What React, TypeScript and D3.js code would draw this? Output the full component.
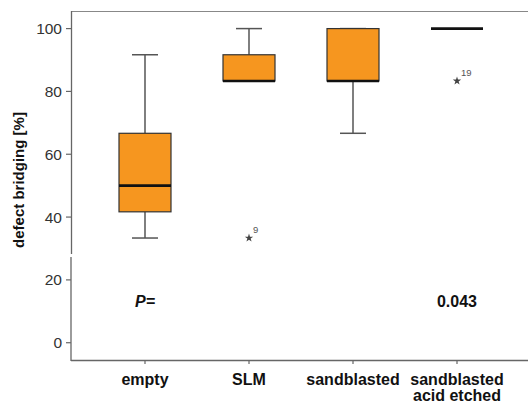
import React, { useEffect, useRef } from 'react';
import * as d3 from 'd3';

const categories = ['empty', 'SLM', 'sandblasted', 'sandblasted|acid etched'];
const whiskerLow = [33.33, 83.33, 66.67, 100];
const q1 = [41.67, 83.33, 83.33, 100];
const median = [50, 83.33, 83.33, 100];
const q3 = [66.67, 91.67, 100, 100];
const whiskerHigh = [91.67, 100, 100, 100];
const outlierCats = ['SLM', 'sandblasted|acid etched'];
const outlierValues = [33.33, 83.33];
const outlierIds = ['9', '19'];
const pTexts = ['P=', '', '', '0.043'];
const yTicks = [0, 20, 40, 60, 80, 100];

const W = 528;
const H = 405;
const left = 71;
const top = 11;
const bottom = 360;
const right = 531;
const font = 'Liberation Sans, Arial, sans-serif';

export default function App() {
    const ref = useRef<SVGSVGElement>(null);

    useEffect(() => {
        const svg = d3.select(ref.current);
        svg.selectAll('*').remove();

        const x = d3.scalePoint<string>().domain(categories).range([left, right]).padding(0.7115);
        const y = d3.scaleLinear().domain([-5.5, 105.6]).range([bottom, top]);
        const step = x.step();
        const boxW = step / 2;
        const capW = step / 4;

        // frame
        const axisColor = '#666';
        svg.append('line').attr('x1', left).attr('x2', W).attr('y1', top + 0.5).attr('y2', top + 0.5)
            .attr('stroke', '#888').attr('stroke-width', 1.2);
        svg.append('line').attr('x1', left).attr('x2', W).attr('y1', bottom + 0.5).attr('y2', bottom + 0.5)
            .attr('stroke', axisColor).attr('stroke-width', 1.3);
        // y axis with small break
        svg.append('line').attr('x1', left + 0.5).attr('x2', left + 0.5).attr('y1', top).attr('y2', 254)
            .attr('stroke', axisColor).attr('stroke-width', 1.3);
        svg.append('line').attr('x1', left).attr('x2', left).attr('y1', 257).attr('y2', bottom + 1)
            .attr('stroke', axisColor).attr('stroke-width', 1.3);

        // y ticks
        const yg = svg.append('g');
        yTicks.forEach(t => {
            yg.append('line').attr('x1', left - 5).attr('x2', left).attr('y1', y(t)).attr('y2', y(t))
                .attr('stroke', axisColor).attr('stroke-width', 1.2);
            yg.append('text').attr('x', left - 9).attr('y', y(t)).attr('dy', '0.36em')
                .attr('text-anchor', 'end').attr('font-family', font).attr('font-size', 15.5)
                .attr('fill', '#333').text(t);
        });

        // x ticks + labels
        categories.forEach(c => {
            const cx = x(c)!;
            svg.append('line').attr('x1', cx).attr('x2', cx).attr('y1', bottom).attr('y2', bottom + 4)
                .attr('stroke', axisColor).attr('stroke-width', 1.2);
            const lines = c.split('|');
            const t = svg.append('text').attr('x', cx).attr('y', 385).attr('text-anchor', 'middle')
                .attr('font-family', font).attr('font-weight', 'bold').attr('font-size', 16).attr('fill', '#111');
            lines.forEach((l, i) => {
                t.append('tspan').attr('x', cx).attr('dy', i === 0 ? 0 : 16).text(l);
            });
        });

        // y label
        svg.append('text').attr('transform', `translate(24,${180}) rotate(-90)`).attr('text-anchor', 'middle')
            .attr('font-family', font).attr('font-weight', 'bold').attr('font-size', 15).attr('fill', '#111')
            .text('defect bridging [%]');

        // boxes
        categories.forEach((c, i) => {
            const cx = x(c)!;
            const g = svg.append('g');
            if (whiskerHigh[i] > q3[i] || q3[i] !== q1[i]) {
                g.append('line').attr('x1', cx).attr('x2', cx).attr('y1', y(q3[i])).attr('y2', y(whiskerHigh[i]))
                    .attr('stroke', '#555').attr('stroke-width', 1.5);
                g.append('line').attr('x1', cx - capW / 2).attr('x2', cx + capW / 2)
                    .attr('y1', y(whiskerHigh[i])).attr('y2', y(whiskerHigh[i]))
                    .attr('stroke', '#555').attr('stroke-width', 1.5);
                g.append('line').attr('x1', cx).attr('x2', cx).attr('y1', y(q1[i])).attr('y2', y(whiskerLow[i]))
                    .attr('stroke', '#555').attr('stroke-width', 1.5);
                g.append('line').attr('x1', cx - capW / 2).attr('x2', cx + capW / 2)
                    .attr('y1', y(whiskerLow[i])).attr('y2', y(whiskerLow[i]))
                    .attr('stroke', '#555').attr('stroke-width', 1.5);
            }
            if (q3[i] > q1[i]) {
                g.append('rect').attr('x', cx - boxW / 2).attr('y', y(q3[i])).attr('width', boxW)
                    .attr('height', y(q1[i]) - y(q3[i])).attr('fill', '#f6961f')
                    .attr('stroke', '#333').attr('stroke-width', 1.2);
            }
            g.append('line').attr('x1', cx - boxW / 2).attr('x2', cx + boxW / 2)
                .attr('y1', y(median[i])).attr('y2', y(median[i]))
                .attr('stroke', '#111').attr('stroke-width', 2.6);
        });

        // outliers
        const star = d3.symbol().type(d3.symbolStar).size(22);
        outlierCats.forEach((c, i) => {
            const cx = x(c)!;
            const cy = y(outlierValues[i]);
            svg.append('path').attr('d', star()!).attr('transform', `translate(${cx},${cy})`).attr('fill', '#444');
            svg.append('text').attr('x', cx + 4).attr('y', cy - 5).attr('font-family', font).attr('font-size', 9.5)
                .attr('fill', '#555').text(outlierIds[i]);
        });

        // p-value annotation
        categories.forEach((c, i) => {
            if (!pTexts[i]) return;
            svg.append('text').attr('x', x(c)!).attr('y', 307).attr('text-anchor', 'middle')
                .attr('font-family', font).attr('font-weight', 'bold')
                .attr('font-style', i === 0 ? 'italic' : 'normal').attr('font-size', 16).attr('fill', '#111')
                .text(pTexts[i]);
        });
    }, []);

    return (
        <svg ref={ref} width={W} height={H} style={{ position: 'absolute', left: 0, top: 0, background: '#fff' }} />
    );
}
